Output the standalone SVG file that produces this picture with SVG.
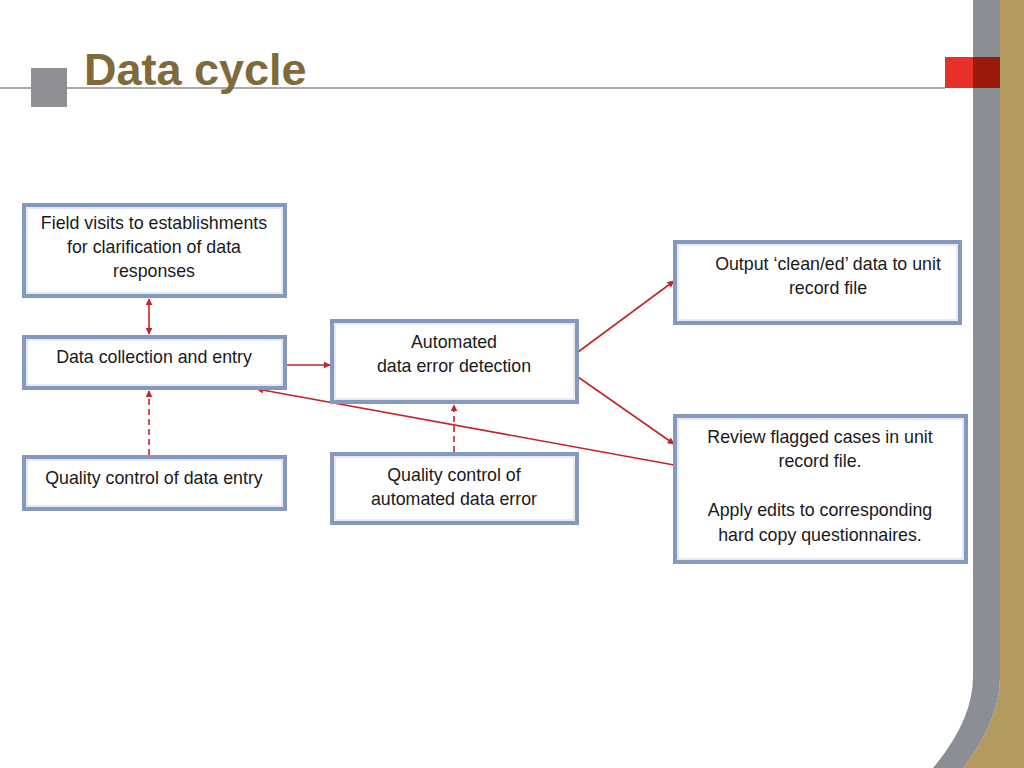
<svg xmlns="http://www.w3.org/2000/svg" width="1024" height="768" viewBox="0 0 1024 768">
<defs>
<style>
.box{fill:#fff;stroke:#8499bd;stroke-width:4}
.inner{fill:none;stroke:#c9d6ea;stroke-width:1}
.t{font-family:"Liberation Sans",Arial,sans-serif;font-size:17.8px;fill:#1a1a1a;text-anchor:middle}
.c{stroke:#c0262c;stroke-width:1.6;fill:none}
.d{stroke-dasharray:6 4}
</style>
<marker id="ah" viewBox="0 0 10 10" refX="9" refY="5" markerWidth="7" markerHeight="7" orient="auto-start-reverse" markerUnits="userSpaceOnUse">
<path d="M0,0 L10,5 L0,10 z" fill="#c0262c"/>
</marker>
</defs>
<rect width="1024" height="768" fill="#fff"/>
<path d="M1000,0 L1024,0 L1024,768 L963,768 Q1000,720 1000,677 Z" fill="#b39a5f"/>
<path d="M973,0 L1000,0 L1000,677 Q1000,720 963,768 L933,768 Q973,720 973,677 Z" fill="#8c8e96"/>
<line x1="0" y1="88" x2="945" y2="88" stroke="#a9a9ad" stroke-width="2"/>
<rect x="945" y="57" width="28" height="31" fill="#e8302a"/>
<rect x="973" y="57" width="27" height="31" fill="#9b1a0e"/>
<rect x="31" y="68" width="36" height="39" fill="#8e8f93"/>
<text x="84" y="85" font-family="Liberation Sans,Arial,sans-serif" font-size="45" font-weight="bold" fill="#7f6a3a">Data cycle</text>

<g id="connectors">
<line class="c" x1="149" y1="299" x2="149" y2="334" marker-start="url(#ah)" marker-end="url(#ah)"/>
<line class="c" x1="287" y1="365" x2="330" y2="365" marker-end="url(#ah)"/>
<line class="c d" x1="149" y1="455" x2="149" y2="391" marker-end="url(#ah)"/>
<line class="c d" x1="454" y1="452" x2="454" y2="405" marker-end="url(#ah)"/>
<line class="c" x1="578" y1="352" x2="674" y2="281" marker-end="url(#ah)"/>
<line class="c" x1="578" y1="377" x2="674" y2="444" marker-end="url(#ah)"/>
<line class="c" x1="674" y1="465" x2="257" y2="389" marker-end="url(#ah)"/>
</g>

<g id="n-field">
<rect class="box" x="24" y="205" width="261" height="91"/>
<rect class="inner" x="27" y="208" width="255" height="85"/>
<text class="t" x="154" y="229">Field visits to establishments</text>
<text class="t" x="154" y="253">for clarification of data</text>
<text class="t" x="154" y="277">responses</text>
</g>
<g id="n-collect">
<rect class="box" x="24" y="337" width="261" height="51"/>
<rect class="inner" x="27" y="340" width="255" height="45"/>
<text class="t" x="154" y="363">Data collection and entry</text>
</g>
<g id="n-qc-entry">
<rect class="box" x="24" y="457" width="261" height="52"/>
<rect class="inner" x="27" y="460" width="255" height="46"/>
<text class="t" x="154" y="484">Quality control of data entry</text>
</g>
<g id="n-auto">
<rect class="box" x="332" y="321" width="245" height="81"/>
<rect class="inner" x="335" y="324" width="239" height="75"/>
<text class="t" x="454" y="348">Automated</text>
<text class="t" x="454" y="372">data error detection</text>
</g>
<g id="n-qc-auto">
<rect class="box" x="332" y="454" width="245" height="69"/>
<rect class="inner" x="335" y="457" width="239" height="63"/>
<text class="t" x="454" y="481">Quality control of</text>
<text class="t" x="454" y="505">automated data error</text>
</g>
<g id="n-output">
<rect class="box" x="675" y="242" width="285" height="81"/>
<rect class="inner" x="678" y="245" width="279" height="75"/>
<text class="t" x="828" y="270">Output ‘clean/ed’ data to unit</text>
<text class="t" x="828" y="294">record file</text>
</g>
<g id="n-review">
<rect class="box" x="675" y="416" width="291" height="146"/>
<rect class="inner" x="678" y="419" width="285" height="140"/>
<text class="t" x="820" y="443">Review flagged cases in unit</text>
<text class="t" x="820" y="467">record file.</text>
<text class="t" x="820" y="516">Apply edits to corresponding</text>
<text class="t" x="820" y="541">hard copy questionnaires.</text>
</g>
</svg>
